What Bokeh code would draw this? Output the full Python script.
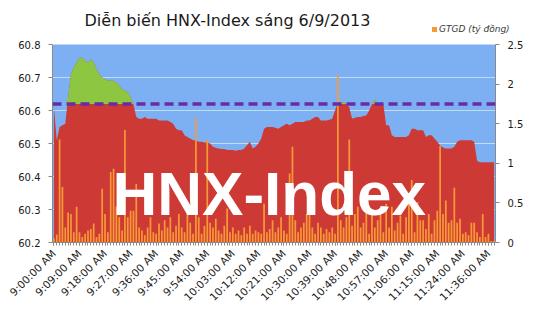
import math
import numpy as np
from bokeh.plotting import figure
from bokeh.layouts import column
from bokeh.models import (Range1d, LinearAxis, FixedTicker, NumeralTickFormatter, Span, Label,
                          Div)
from bokeh.embed import file_html
from bokeh.resources import INLINE

title_text = "Diễn biến HNX-Index sáng 6/9/2013"
legend_text = "GTGD (tỷ đồng)"
watermark_text = "HNX-Index"
reference_level = 60.62

tick_labels = ["9:00:00 AM", "9:09:00 AM", "9:18:00 AM", "9:27:00 AM", "9:36:00 AM",
               "9:45:00 AM", "9:54:00 AM", "10:03:00 AM", "10:12:00 AM", "10:21:00 AM",
               "10:30:00 AM", "10:39:00 AM", "10:48:00 AM", "10:57:00 AM", "11:06:00 AM",
               "11:15:00 AM", "11:24:00 AM", "11:36:00 AM"]
tick_pos = [0, 9, 18, 27, 36, 45, 54, 63, 72, 81, 90, 99, 108, 117, 126, 135, 144, 153]

left_ticks = [60.2, 60.3, 60.4, 60.5, 60.6, 60.7, 60.8]
right_ticks = [0, 0.5, 1, 1.5, 2, 2.5]

index_vals = [
    60.61, 60.51, 60.55, 60.555, 60.56, 60.64, 60.71, 60.73, 60.745, 60.76,
    60.76, 60.75, 60.745, 60.755, 60.745, 60.725, 60.71, 60.70, 60.695, 60.69,
    60.69, 60.69, 60.685, 60.675, 60.665, 60.66, 60.655, 60.64, 60.62, 60.58,
    60.575, 60.575, 60.58, 60.575, 60.575, 60.575, 60.575, 60.57, 60.57, 60.57,
    60.57, 60.565, 60.56, 60.545, 60.54, 60.54, 60.525, 60.52, 60.515, 60.51,
    60.51, 60.505, 60.505, 60.503, 60.503, 60.50, 60.49, 60.487, 60.485, 60.483,
    60.483, 60.48, 60.48, 60.48, 60.478, 60.48, 60.48, 60.485, 60.495, 60.505,
    60.485, 60.49, 60.50, 60.515, 60.545, 60.55, 60.55, 60.55, 60.548, 60.545,
    60.55, 60.555, 60.56, 60.555, 60.56, 60.565, 60.565, 60.565, 60.565, 60.57,
    60.57, 60.575, 60.58, 60.58, 60.57, 60.57, 60.57, 60.572, 60.575, 60.60,
    60.625, 60.625, 60.625, 60.62, 60.61, 60.575, 60.578, 60.58, 60.58, 60.583,
    60.585, 60.60, 60.62, 60.632, 60.62, 60.62, 60.62, 60.555, 60.555, 60.525,
    60.52, 60.52, 60.52, 60.52, 60.52, 60.525, 60.545, 60.545, 60.54, 60.54,
    60.54, 60.52, 60.525, 60.525, 60.515, 60.505, 60.494, 60.488, 60.485, 60.485,
    60.485, 60.49, 60.505, 60.51, 60.51, 60.51, 60.51, 60.51, 60.505, 60.448,
    60.443, 60.443, 60.443, 60.443, 60.443, 60.443]

volume = [
    0.05, 0.10, 1.30, 0.70, 0.19, 0.38, 0.36, 0.13, 0.45, 0.13,
    0.07, 0.11, 0.15, 0.17, 0.24, 0.07, 0.11, 0.68, 0.36, 0.13,
    0.89, 0.93, 0.45, 0.32, 0.15, 1.42, 0.32, 0.40, 0.40, 0.74,
    0.19, 0.15, 0.09, 0.19, 0.32, 0.13, 0.11, 0.24, 0.15, 0.28,
    0.19, 0.32, 0.13, 0.21, 0.36, 0.19, 0.13, 0.36, 0.25, 0.11,
    1.58, 0.32, 0.11, 0.21, 1.30, 0.25, 0.19, 0.30, 0.15, 0.11,
    0.21, 0.43, 0.13, 0.19, 0.11, 0.15, 0.09, 0.19, 0.11, 0.21,
    0.11, 0.15, 0.13, 0.11, 0.49, 0.13, 0.17, 0.28, 0.13, 0.19,
    0.32, 0.15, 0.11, 0.87, 1.21, 0.28, 0.13, 0.19, 0.25, 0.36,
    0.40, 0.19, 0.11, 0.25, 0.19, 0.11, 0.17, 0.13, 0.19, 0.11,
    2.12, 0.28, 0.19, 0.32, 1.30, 0.21, 0.36, 0.45, 0.19, 0.25,
    0.47, 0.11, 0.40, 0.19, 0.28, 0.36, 0.13, 0.49, 0.19, 0.45,
    0.15, 0.25, 0.34, 0.11, 0.32, 0.55, 0.79, 0.13, 0.51, 0.28,
    0.28, 0.17, 0.36, 0.11, 0.28, 0.40, 1.22, 0.36, 0.53, 0.25,
    0.28, 0.69, 0.25, 0.30, 0.11, 0.13, 0.09, 0.25, 0.25, 0.13,
    0.07, 0.36, 0.07, 0.11, 0.02, 0.02]

n = len(index_vals)
x = np.arange(n)
vals = np.array(index_vals)

font = "DejaVu Sans"
bar_color = "#F79A36"

# ---- header strip: title + legend ----
HEADER_H = 36
header_html = (
    '<div style="position:relative;width:535px;height:%dpx;font-family:\'DejaVu Sans\';">'
    '<span style="position:absolute;left:0px;width:455px;top:13px;text-align:center;'
    'font-size:16px;line-height:16px;color:#1a1a1a;white-space:nowrap;">%s</span>'
    '<span style="position:absolute;left:432px;top:27px;width:5px;height:5px;'
    'background:%s;"></span>'
    '<span style="position:absolute;left:439px;top:25px;font-size:9px;line-height:9px;'
    'font-style:italic;color:#3a3a3a;white-space:nowrap;">%s</span>'
    '</div>' % (HEADER_H, title_text, bar_color, legend_text))
header = Div(text=header_html, width=535, height=HEADER_H, margin=(0, 0, 0, 0))

# ---- main chart ----
p = figure(width=535, height=335 - HEADER_H, output_backend="svg", toolbar_location=None,
           x_range=Range1d(-0.5, n - 0.5), y_range=Range1d(60.2, 60.8),
           min_border_left=52, min_border_right=40, min_border_top=44 - HEADER_H,
           min_border_bottom=93)
p.extra_y_ranges = {"vol": Range1d(0, 2.5)}
p.background_fill_color = "#7DB0F2"
p.border_fill_color = "white"
p.outline_line_color = None

p.varea(x=x, y1=60.2, y2=vals, fill_color="#CD3A35")
p.varea(x=x, y1=reference_level, y2=np.maximum(vals, reference_level), fill_color="#8DC640")
p.vbar(x=x, top=volume, bottom=0, width=0.6, y_range_name="vol",
       fill_color=bar_color, line_color=None)

p.add_layout(Span(location=reference_level, dimension="width", line_color="#6A2BA6",
                  line_width=3.5, line_dash="9 5"))

p.xgrid.visible = False
p.ygrid.ticker = FixedTicker(ticks=left_ticks)
p.ygrid.grid_line_color = "#C5DAF7"
p.ygrid.grid_line_width = 1

ya = p.yaxis[0]
ya.ticker = FixedTicker(ticks=left_ticks)
ya.formatter = NumeralTickFormatter(format="0.0")
ya.major_label_text_font = font
ya.major_label_text_font_size = "10px"
ya.major_label_text_color = "#1a1a1a"
ya.axis_line_color = "#8a8a8a"
ya.major_tick_line_color = "#8a8a8a"
ya.major_tick_out = 4
ya.major_tick_in = 0
ya.minor_tick_line_color = None
ya.major_label_standoff = 8

ra = LinearAxis(y_range_name="vol", ticker=FixedTicker(ticks=right_ticks),
                formatter=NumeralTickFormatter(format="0.[0]"))
ra.major_label_text_font = font
ra.major_label_text_font_size = "10px"
ra.major_label_text_color = "#1a1a1a"
ra.axis_line_color = "#8a8a8a"
ra.major_tick_line_color = "#8a8a8a"
ra.major_tick_out = 4
ra.major_tick_in = 0
ra.minor_tick_line_color = None
ra.major_label_standoff = 8
p.add_layout(ra, "right")

xa = p.xaxis[0]
xa.ticker = FixedTicker(ticks=tick_pos, minor_ticks=list(range(n)))
xa.major_label_overrides = {t: l for t, l in zip(tick_pos, tick_labels)}
xa.major_label_orientation = math.pi / 4
xa.major_label_text_font = font
xa.major_label_text_font_size = "10.5px"
xa.major_label_text_color = "#1a1a1a"
xa.axis_line_color = "#8a8a8a"
xa.major_tick_line_color = "#8a8a8a"
xa.minor_tick_line_color = "#8a8a8a"
xa.major_tick_out = 3
xa.major_tick_in = 0
xa.minor_tick_out = 3
xa.minor_tick_in = 0
xa.major_label_standoff = 6

p.add_layout(Label(x=20.65, y=60.349, text=watermark_text, text_align="left",
                   text_baseline="alphabetic", text_font="Liberation Sans",
                   text_font_size="62px", text_font_style="bold", text_color="white"))

layout = column(header, p, spacing=0)
open("out.html", "w").write(file_html(layout, INLINE))
